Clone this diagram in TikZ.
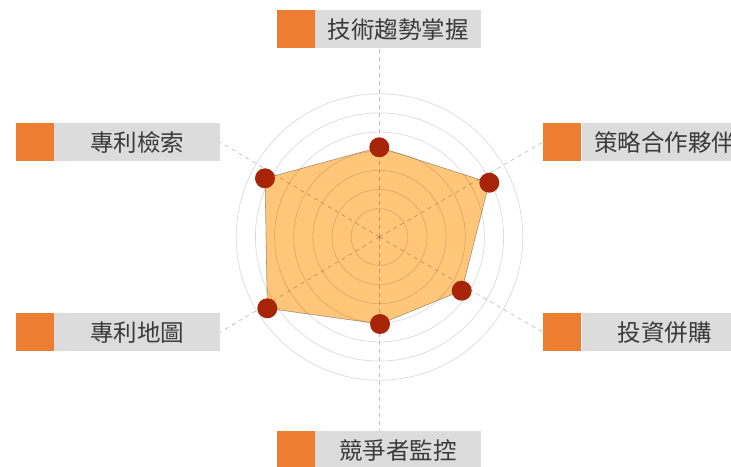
\documentclass[tikz,border=0pt]{standalone}
\usepackage{fontspec}
\newfontfamily\cjk{Noto Sans CJK TC}
\definecolor{boxorange}{RGB}{237,125,49}
\definecolor{boxgrey}{RGB}{220,220,220}
\definecolor{areafill}{RGB}{255,198,122}
\definecolor{dotred}{RGB}{168,36,8}
\definecolor{labeltext}{RGB}{58,58,58}
\begin{document}
\begin{tikzpicture}[x=1bp,y=-1bp,
  tag/.style={fill=boxorange,minimum width=38.5bp,minimum height=38.5bp,inner sep=0pt},
  labelbox/.style={fill=boxgrey,minimum width=166bp,minimum height=38.5bp,inner sep=0pt,text=labeltext,font=\cjk\fontsize{23.5bp}{28bp}\selectfont},
  ring/.style={draw=black,draw opacity=0.14,line width=0.7bp},
  spoke/.style={draw=black,draw opacity=0.25,dash pattern=on 4bp off 4bp,line width=0.7bp},
  dot/.style={circle,fill=dotred,minimum size=20bp,inner sep=0pt},
]
\useasboundingbox (0,0) rectangle (731,467);
\clip (0,0) rectangle (731,467);
\coordinate (c) at (379.5,237);
% data points
\coordinate (p1) at (379.3,147.3);
\coordinate (p2) at (489.3,182.7);
\coordinate (p3) at (461.7,290.7);
\coordinate (p4) at (380,324);
\coordinate (p5) at (267.3,308.3);
\coordinate (p6) at (265,178.3);
% label boxes
\node[tag] (oT) at (296,29.2) {};
\node[labelbox] (gT) at (398,29.2) {技術趨勢掌握};
\node[tag] (oUR) at (562.2,142.2) {};
\node[labelbox] (gUR) at (664.7,142.2) {策略合作夥伴};
\node[tag] (oLR) at (562.2,332.2) {};
\node[labelbox] (gLR) at (664.7,332.2) {投資併購};
\node[tag] (oB) at (296,450.5) {};
\node[labelbox] (gB) at (398,450.5) {競爭者監控};
\node[tag] (oLL) at (35,332.2) {};
\node[labelbox] (gLL) at (137,332.2) {專利地圖};
\node[tag] (oUL) at (35,142.2) {};
\node[labelbox] (gUL) at (137,142.2) {專利檢索};
% area
\fill[areafill] (p1) -- (p2) -- (p3) -- (p4) -- (p5) -- (p6) -- cycle;
% rings
\foreach \r in {28.35,47.5,66.65,85.8,104.95,124.1,143.25}
  \draw[ring] (c) circle[radius=\r];
% spokes
\draw[spoke] (c) -- (c |- gT.south);
\draw[spoke] (c) -- (c |- gB.north);
\draw[spoke] (c) -- (oUR.west);
\draw[spoke] (c) -- (oLR.west);
\draw[spoke] (c) -- (gLL.east);
\draw[spoke] (c) -- (gUL.east);
% outline
\draw[draw=black,draw opacity=0.35,line width=0.6bp] (p1) -- (p2) -- (p3) -- (p4) -- (p5) -- (p6) -- cycle;
% dots
\node[dot] (d1) at (p1) {};
\node[dot] (d2) at (p2) {};
\node[dot] (d3) at (p3) {};
\node[dot] (d4) at (p4) {};
\node[dot] (d5) at (p5) {};
\node[dot] (d6) at (p6) {};
\end{tikzpicture}
\end{document}
